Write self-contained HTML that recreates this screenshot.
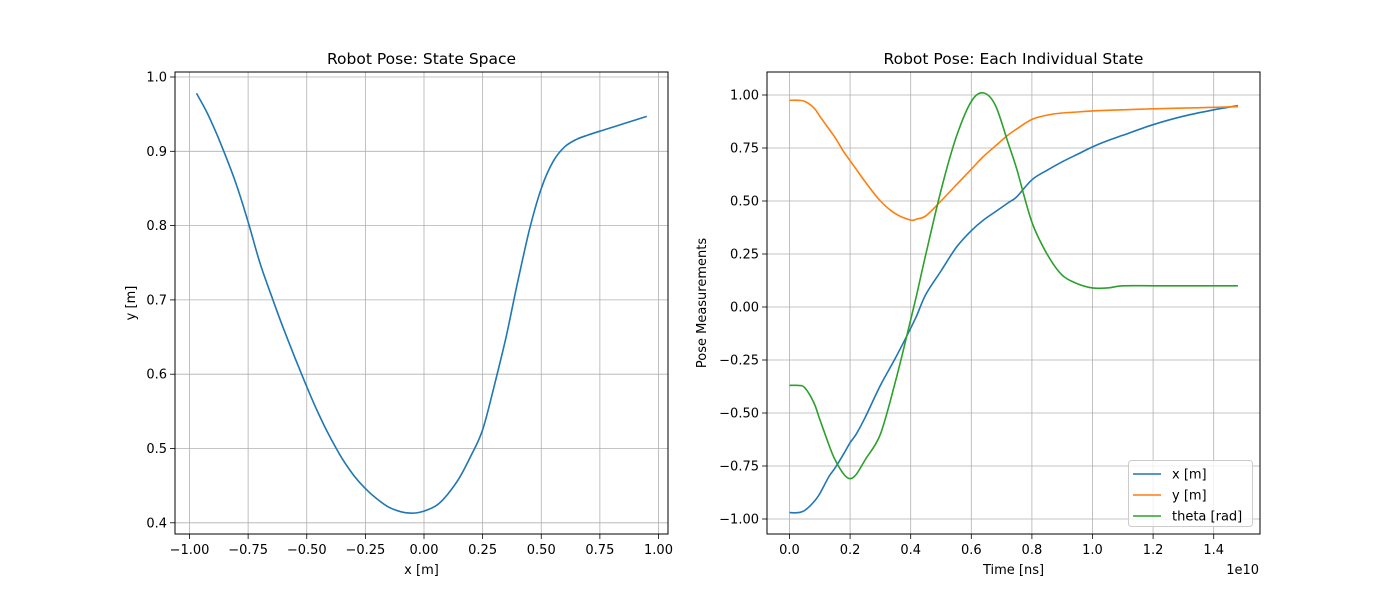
<!DOCTYPE html>
<html><head><meta charset="utf-8"><style>
body{margin:0;background:#fff}
svg{font-family:"DejaVu Sans","Liberation Sans",sans-serif}
</style></head><body>
<svg id="fig" width="1400" height="600" viewBox="0 0 1400 600"></svg>
<script>
// Left plot data (state space)
const pathX = [-0.97,-0.93,-0.9,-0.86,-0.8,-0.75,-0.7,-0.65,-0.6,-0.55,-0.5,-0.45,-0.4,-0.35,-0.3,-0.25,-0.2,-0.15,-0.1,-0.06,-0.02,0.02,0.06,0.1,0.15,0.2,0.25,0.3,0.35,0.4,0.45,0.5,0.55,0.6,0.65,0.7,0.75,0.8,0.85,0.9,0.95];
const pathY = [0.978,0.955,0.935,0.905,0.855,0.805,0.75,0.705,0.662,0.622,0.583,0.547,0.515,0.487,0.464,0.446,0.432,0.421,0.415,0.413,0.414,0.418,0.425,0.438,0.46,0.49,0.525,0.585,0.65,0.725,0.795,0.85,0.886,0.906,0.916,0.922,0.927,0.932,0.937,0.942,0.947];
// Right plot data
const times = [0,0.03,0.05,0.08,0.1,0.13,0.15,0.18,0.2,0.22,0.25,0.3,0.35,0.4,0.42,0.45,0.5,0.55,0.6,0.64,0.68,0.72,0.75,0.8,0.85,0.9,0.95,1.0,1.05,1.1,1.2,1.3,1.4,1.48];
const seriesX = [-0.97,-0.97,-0.96,-0.92,-0.88,-0.8,-0.76,-0.69,-0.64,-0.6,-0.52,-0.37,-0.24,-0.1,-0.04,0.06,0.17,0.28,0.36,0.41,0.45,0.49,0.52,0.6,0.645,0.685,0.72,0.755,0.785,0.81,0.86,0.9,0.93,0.95];
const seriesY = [0.975,0.975,0.97,0.94,0.9,0.84,0.8,0.73,0.69,0.65,0.59,0.5,0.44,0.41,0.415,0.43,0.5,0.575,0.65,0.71,0.76,0.81,0.84,0.885,0.905,0.915,0.92,0.925,0.928,0.93,0.935,0.938,0.942,0.945];
const seriesTheta = [-0.37,-0.37,-0.38,-0.45,-0.53,-0.65,-0.72,-0.79,-0.81,-0.79,-0.72,-0.6,-0.35,-0.06,0.06,0.25,0.55,0.8,0.97,1.01,0.95,0.78,0.65,0.4,0.25,0.15,0.11,0.09,0.09,0.1,0.1,0.1,0.1,0.1];
const leftXTicks = [-1,-0.75,-0.5,-0.25,0,0.25,0.5,0.75,1];
const leftXLabels = ["−1.00","−0.75","−0.50","−0.25","0.00","0.25","0.50","0.75","1.00"];
const leftYTicks = [0.4,0.5,0.6,0.7,0.8,0.9,1.0];
const leftYLabels = ["0.4","0.5","0.6","0.7","0.8","0.9","1.0"];
const rightXTicks = [0,0.2,0.4,0.6,0.8,1.0,1.2,1.4];
const rightXLabels = ["0.0","0.2","0.4","0.6","0.8","1.0","1.2","1.4"];
const rightYTicks = [1,0.75,0.5,0.25,0,-0.25,-0.5,-0.75,-1];
const rightYLabels = ["1.00","0.75","0.50","0.25","0.00","−0.25","−0.50","−0.75","−1.00"];

const NS="http://www.w3.org/2000/svg";
const svg=document.getElementById('fig');
function mk(tag,attrs,parent){const e=document.createElementNS(NS,tag);for(const k in attrs)e.setAttribute(k,attrs[k]);(parent||svg).appendChild(e);return e;}
function txt(s,attrs,parent){const e=mk('text',attrs,parent);e.textContent=s;return e;}

const L={x0:175,x1:668,y0:72,y1:534};
const lx=v=>424+v*234.5, ly=v=>77+(1-v)*743;
const R={x0:767,x1:1260,y0:72,y1:534};
const rx=t=>789.5+t*303, ry=v=>307-v*212;

function axes(box,xt,xl,xs,yt,yl,ys,name){
  const g=mk('g',{});
  
  
  xt.forEach((v,i)=>{const p=xs(v);
    const gl=mk('line',{x1:p,x2:p,y1:box.y0,y2:box.y1,stroke:'#b0b0b0','stroke-width':0.8},g);
    
    mk('line',{x1:p,x2:p,y1:box.y1,y2:box.y1+5,stroke:'#000','stroke-width':0.8},g);
    const t=txt(xl[i],{x:p,y:box.y1+20,'font-size':13,'text-anchor':'middle'},g);
    
  });
  yt.forEach((v,i)=>{const p=ys(v);
    const gl=mk('line',{x1:box.x0,x2:box.x1,y1:p,y2:p,stroke:'#b0b0b0','stroke-width':0.8},g);
    
    mk('line',{x1:box.x0-5,x2:box.x0,y1:p,y2:p,stroke:'#000','stroke-width':0.8},g);
    const t=txt(yl[i],{x:box.x0-8,y:p+4.5,'font-size':13,'text-anchor':'end'},g);
    
  });
  return g;
}
function frame(box){const r=mk('rect',{x:box.x0,y:box.y0,width:box.x1-box.x0,height:box.y1-box.y0,fill:'none',stroke:'#000','stroke-width':1});
  }
function line(xsArr,ysArr,fx,fy,color,name){
  const P=xsArr.map((v,i)=>[fx(v),fy(ysArr[i])]);
  let d='M'+P[0][0].toFixed(1)+','+P[0][1].toFixed(1);
  const s=0.16;
  for(let i=0;i<P.length-1;i++){
    const p0=P[Math.max(0,i-1)],p1=P[i],p2=P[i+1],p3=P[Math.min(P.length-1,i+2)];
    const c1=[p1[0]+(p2[0]-p0[0])*s,p1[1]+(p2[1]-p0[1])*s];
    const c2=[p2[0]-(p3[0]-p1[0])*s,p2[1]-(p3[1]-p1[1])*s];
    d+=' C'+c1[0].toFixed(1)+','+c1[1].toFixed(1)+' '+c2[0].toFixed(1)+','+c2[1].toFixed(1)+' '+p2[0].toFixed(1)+','+p2[1].toFixed(1);
  }
  const p=mk('path',{d:d,fill:'none',stroke:color,'stroke-width':1.6,'stroke-linejoin':'round'});
  
}

// Left
axes(L,leftXTicks,leftXLabels,lx,leftYTicks,leftYLabels,ly,'left-axes');
line(pathX,pathY,lx,ly,'#1f77b4','state-path-line');
frame(L);
let t;
t=txt('Robot Pose: State Space',{x:421.5,y:64,'font-size':15.5,'text-anchor':'middle'});

t=txt('x [m]',{x:421.5,y:574,'font-size':13,'text-anchor':'middle'});

t=txt('y [m]',{x:0,y:0,'font-size':13,'text-anchor':'middle',transform:'translate(135,303) rotate(-90)'});


// Right
axes(R,rightXTicks,rightXLabels,rx,rightYTicks,rightYLabels,ry,'right-axes');
line(times,seriesX,rx,ry,'#1f77b4','x-series-line');
line(times,seriesY,rx,ry,'#ff7f0e','y-series-line');
line(times,seriesTheta,rx,ry,'#2ca02c','theta-series-line');
frame(R);
t=txt('Robot Pose: Each Individual State',{x:1013.5,y:64,'font-size':15.5,'text-anchor':'middle'});

t=txt('Time [ns]',{x:1013.5,y:574,'font-size':13,'text-anchor':'middle'});

t=txt('1e10',{x:1259,y:574,'font-size':13,'text-anchor':'end'});

t=txt('Pose Measurements',{x:0,y:0,'font-size':13,'text-anchor':'middle',transform:'translate(706,303) rotate(-90)'});


// Legend
const lg=mk('g',{});


mk('rect',{x:1128.5,y:460.5,width:124,height:66,rx:3,fill:'#fff','fill-opacity':0.8,stroke:'#ccc'},lg);
const legendNames=['x [m]','y [m]','theta [rad]'];
const legendColors=['#1f77b4','#ff7f0e','#2ca02c'];
legendNames.forEach((n,i)=>{
  const y=474+i*21;
  const e=mk('g',{},lg);
  
  
  mk('line',{x1:1133,x2:1161,y1:y,y2:y,stroke:legendColors[i],'stroke-width':1.6},e);
  txt(n,{x:1172,y:y+4.5,'font-size':13},e);
});
</script>
</body></html>
